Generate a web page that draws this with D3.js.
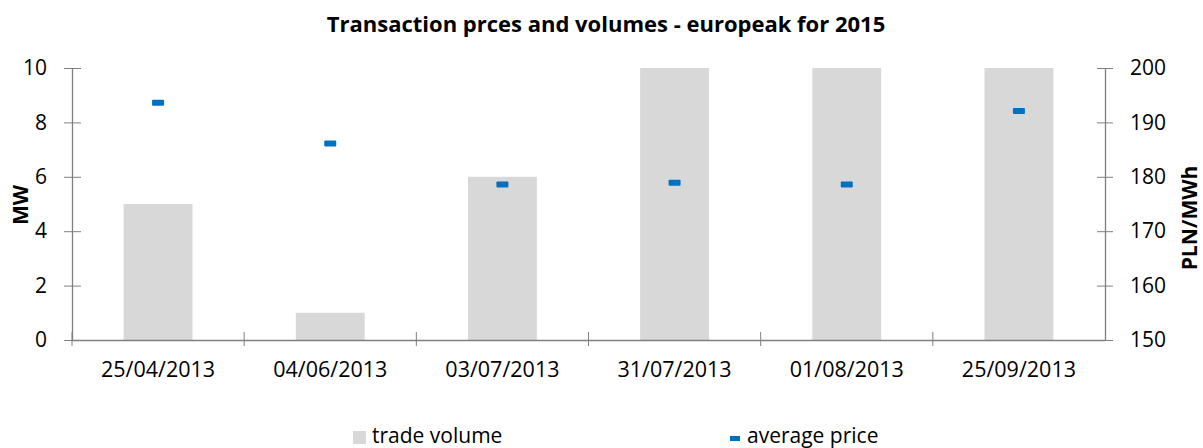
<!DOCTYPE html>
<html>
<head>
<meta charset="utf-8">
<script src="https://cdn.jsdelivr.net/npm/d3@7"></script>
<style>
  body { margin: 0; background: #fff; }
  text { font-family: "Open Sans", sans-serif; }
</style>
</head>
<body>
<div id="chart"></div>
<script>
var dates = ["25/04/2013", "04/06/2013", "03/07/2013", "31/07/2013", "01/08/2013", "25/09/2013"];
var volumes = [5, 1, 6, 10, 10, 10];
var prices = [193.6, 186.1, 178.6, 178.9, 178.6, 192.1];
var volumeTicks = [0, 2, 4, 6, 8, 10];
var priceTicks = [150, 160, 170, 180, 190, 200];

var width = 1203, height = 448;
var margin = {top: 68, right: 98, bottom: 108, left: 72};
var innerW = width - margin.left - margin.right,
    innerH = height - margin.top - margin.bottom;

var svg = d3.select("#chart").append("svg")
    .attr("width", width)
    .attr("height", height);

var x = d3.scaleBand().domain(dates).range([0, innerW]).paddingInner(0.6).paddingOuter(0.3);
var xb = d3.scaleBand().domain(dates).range([0, innerW]);
var yL = d3.scaleLinear().domain([0, 10]).range([innerH, 0]);
var yR = d3.scaleLinear().domain([150, 200]).range([innerH, 0]);

var g = svg.append("g").attr("transform", `translate(${margin.left},${margin.top})`);

// bars
g.selectAll("rect.bar")
    .data(dates)
    .join("rect")
        .attr("class", "bar")
        .attr("x", d => x(d))
        .attr("width", x.bandwidth())
        .attr("y", (d, i) => yL(volumes[i]))
        .attr("height", (d, i) => innerH - yL(volumes[i]))
        .attr("fill", "#D9D8D9");

// left axis
var axL = g.append("g")
    .call(d3.axisLeft(yL).tickValues(volumeTicks).tickSize(8).tickPadding(17))
axL.selectAll(".tick line").attr("x2", 9).attr("x1", -8);
axL.selectAll(".tick text").attr("x", -25);
var axR = g.append("g").attr("transform", `translate(${innerW},0)`)
    .call(d3.axisRight(yR).tickValues(priceTicks).tickSize(8).tickPadding(17))
axR.selectAll(".tick line").attr("x1", -8).attr("x2", 8);
axR.selectAll(".tick text").attr("x", 25);

// bottom axis, ticks at category boundaries
var axB = g.append("g").attr("transform", `translate(0,${innerH})`)
    .call(d3.axisBottom(xb).tickSize(0).tickPadding(22));
axB.selectAll(".tick line").remove();
axB.selectAll("line.bound")
    .data(dates)
    .join("line")
        .attr("class", "bound")
        .attr("x1", d => xb(d)).attr("x2", d => xb(d))
        .attr("y1", -8).attr("y2", 6)
        .attr("stroke", "#7f7f7f");

[axL, axR, axB].forEach(a => {
    a.select(".domain").attr("stroke", "#7f7f7f").attr("stroke-width", 1.3);
    a.selectAll(".tick line").attr("stroke", "#7f7f7f");
    a.selectAll("text").attr("font-size", 21).attr("fill", "#000")
        .attr("font-family", "'Open Sans', sans-serif");
});
axB.select(".domain").attr("d", `M0,0.5H${innerW}`);
axL.select(".domain").attr("d", `M0.5,0V${innerH}`);
axR.select(".domain").attr("d", `M0.5,0V${innerH}`);
axB.selectAll(".tick text").attr("font-size", 21.5);

// price markers
g.selectAll("rect.price")
    .data(dates)
    .join("rect")
        .attr("class", "price")
        .attr("x", d => xb(d) + xb.bandwidth() / 2 - 6)
        .attr("y", (d, i) => yR(prices[i]) - 3)
        .attr("width", 12)
        .attr("height", 6)
        .attr("rx", 1)
        .attr("fill", "#0070C0");

// title
svg.append("text")
    .attr("x", 606).attr("y", 32)
    .attr("text-anchor", "middle")
    .attr("font-size", 22).attr("font-weight", "bold")
    .text("Transaction prces and volumes - europeak for 2015");

// axis titles
svg.append("text")
    .attr("transform", "translate(28,205) rotate(-90)")
    .attr("text-anchor", "middle")
    .attr("font-size", 21).attr("font-weight", "bold")
    .text("MW");
svg.append("text")
    .attr("transform", "translate(1197,218) rotate(-90)")
    .attr("text-anchor", "middle")
    .attr("font-size", 21).attr("font-weight", "bold")
    .text("PLN/MWh");

// legend
var leg = svg.append("g");
leg.append("rect").attr("x", 353).attr("y", 431).attr("width", 13).attr("height", 13).attr("fill", "#D9D8D9");
leg.append("text").attr("x", 372).attr("y", 443).attr("font-size", 21).text("trade volume");
leg.append("rect").attr("x", 730).attr("y", 436).attr("width", 10).attr("height", 5).attr("fill", "#0070C0");
leg.append("text").attr("x", 747).attr("y", 443).attr("font-size", 21).text("average price");
</script>
</body>
</html>
